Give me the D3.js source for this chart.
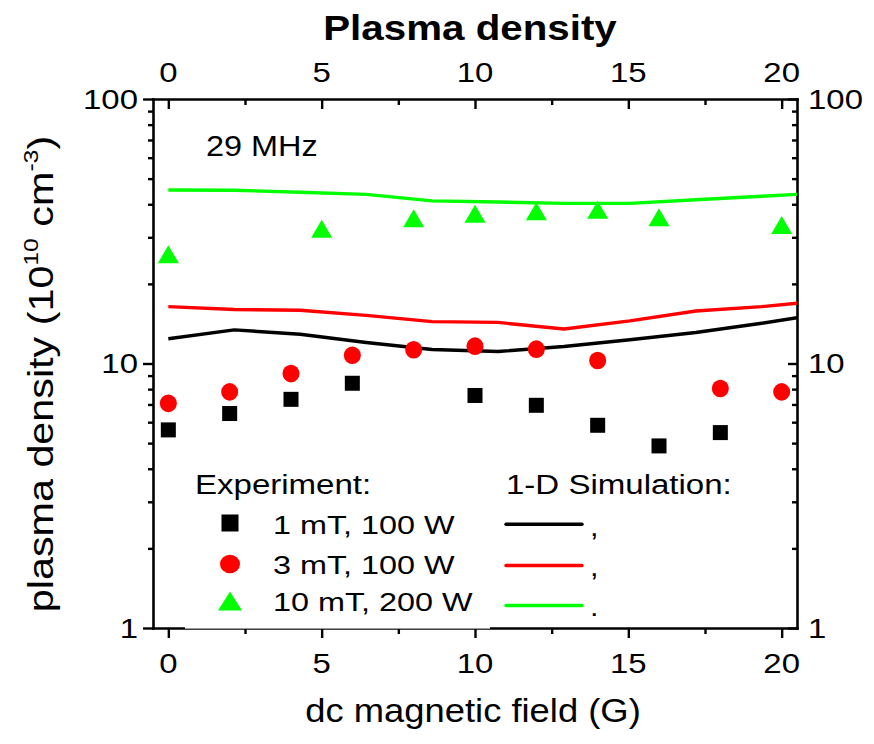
<!DOCTYPE html>
<html><head><meta charset="utf-8">
<script src="https://cdn.jsdelivr.net/npm/d3@7"></script>
<style>
body{margin:0;background:#fff}
svg{display:block}
text{font-family:"Liberation Sans",Arial,Helvetica,sans-serif;fill:#000}
</style>
</head><body>
<svg id="c" width="874" height="744"></svg>
<script>
// ---- data ----
const xTicks = [0, 5, 10, 15, 20];
const xMinor = [2.5, 7.5, 12.5, 17.5];
const yTicks = [1, 10, 100];
const yMinor = [2,3,4,5,6,7,8,9,20,30,40,50,60,70,80,90];

const exp1X = [0, 2, 4, 6, 10, 12, 14, 16, 18];
const exp1Y = [5.61, 6.47, 7.32, 8.42, 7.57, 6.95, 5.84, 4.88, 5.48];
const exp3X = [0, 2, 4, 6, 8, 10, 12, 14, 18, 20];
const exp3Y = [7.07, 7.81, 9.16, 10.75, 11.27, 11.63, 11.33, 10.26, 8.04, 7.81];
const exp10X = [0, 5, 8, 10, 12, 14, 16, 20];
const exp10Y = [25.9, 32.3, 35.4, 36.8, 37.6, 38.1, 35.7, 33.4];

const simX   = [0, 2.15, 4.3, 6.45, 8.6, 10.75, 12.9, 15.05, 17.2, 19.35, 20.5];
const sim1Y  = [12.4, 13.4, 12.9, 12.0, 11.3, 11.1, 11.6, 12.3, 13.1, 14.2, 14.9];
const sim3Y  = [16.4, 16.0, 15.9, 15.2, 14.4, 14.3, 13.5, 14.5, 15.8, 16.4, 16.9];
const sim10Y = [45.3, 45.2, 44.4, 43.6, 41.2, 40.8, 40.3, 40.3, 41.6, 42.9, 43.6];

const legendExp = ["1 mT, 100 W", "3 mT, 100 W", "10 mT, 200 W"];
const legendPunct = [",", ",", "."];
const colors = ["#000000", "#ff0000", "#00ff00"];

// ---- layout ----
const L = 153, R = 797, T = 99, B = 628;
const svg = d3.select("#c");
const x = d3.scaleLinear().domain([-0.5, 20.5]).range([L, R]);
const y = d3.scaleLog().domain([1, 100]).range([B, T]);

function label(px, py, str, o) {
  const g = svg.append("g")
    .attr("transform", `translate(${px},${py}) rotate(${o.rotate||0}) scale(${o.sx||1},1)`);
  return g.append("text")
    .attr("font-size", o.size)
    .attr("text-anchor", o.anchor || "start")
    .attr("font-weight", o.weight || "normal")
    .text(str);
}

function styleAxis(g) {
  g.selectAll("path.domain").attr("stroke", "#000").attr("stroke-width", 2.6).attr("stroke-linecap", "square");
  g.selectAll(".tick line").attr("stroke", "#000").attr("stroke-width", 2.4);
  g.selectAll("text").remove();
}
const fmtNone = () => "";
// bottom
svg.append("g").attr("transform", `translate(0,${B})`)
  .call(d3.axisBottom(x).tickValues(xTicks).tickSizeInner(10).tickSizeOuter(0).tickFormat(fmtNone)).call(styleAxis);
svg.append("g").attr("transform", `translate(0,${B})`)
  .call(d3.axisBottom(x).tickValues(xMinor).tickSizeInner(6).tickSizeOuter(0).tickFormat(fmtNone)).call(styleAxis)
  .select("path.domain").remove();
// top (ticks inward)
svg.append("g").attr("transform", `translate(0,${T})`)
  .call(d3.axisTop(x).tickValues(xTicks).tickSizeInner(-10).tickSizeOuter(0).tickFormat(fmtNone)).call(styleAxis);
svg.append("g").attr("transform", `translate(0,${T})`)
  .call(d3.axisTop(x).tickValues(xMinor).tickSizeInner(-6).tickSizeOuter(0).tickFormat(fmtNone)).call(styleAxis)
  .select("path.domain").remove();
// left (outward)
svg.append("g").attr("transform", `translate(${L},0)`)
  .call(d3.axisLeft(y).tickValues(yTicks).tickSizeInner(10).tickSizeOuter(0).tickFormat(fmtNone)).call(styleAxis);
svg.append("g").attr("transform", `translate(${L},0)`)
  .call(d3.axisLeft(y).tickValues(yMinor).tickSizeInner(5).tickSizeOuter(0).tickFormat(fmtNone)).call(styleAxis)
  .select("path.domain").remove();
// right (inward)
svg.append("g").attr("transform", `translate(${R},0)`)
  .call(d3.axisRight(y).tickValues(yTicks).tickSizeInner(-9).tickSizeOuter(0).tickFormat(fmtNone)).call(styleAxis);
svg.append("g").attr("transform", `translate(${R},0)`)
  .call(d3.axisRight(y).tickValues(yMinor).tickSizeInner(-5).tickSizeOuter(0).tickFormat(fmtNone)).call(styleAxis)
  .select("path.domain").remove();

// legend white box (covers part of the bottom axis line)
svg.append("rect").attr("x", 185).attr("y", 465).attr("width", 305).attr("height", B + 0.6 - 465).attr("fill", "#fff");

// tick labels
xTicks.forEach(v => {
  label(x(v), 82, String(v), {size: 27, anchor: "middle", sx: 1.22});
  label(x(v), 673, String(v), {size: 27, anchor: "middle", sx: 1.22});
});
yTicks.forEach(v => {
  label(138, y(v) + 9.5, String(v), {size: 27, anchor: "end", sx: 1.22});
  label(808, y(v) + 9.5, String(v), {size: 27, anchor: "start", sx: 1.22});
});

// titles
label(470, 40, "Plasma density", {size: 36, anchor: "middle", weight: "bold", sx: 1.12});
label(473, 722, "dc magnetic field (G)", {size: 34, anchor: "middle", sx: 1.07});
const yt = label(53, 374, "", {size: 35, anchor: "middle", sx: 1.18, rotate: -90});
yt.append("tspan").text("plasma density (10");
yt.append("tspan").attr("font-size", 21).attr("dy", -15).text("10");
yt.append("tspan").attr("dy", 15).text(" cm");
yt.append("tspan").attr("font-size", 21).attr("dy", -15).text("-3");
yt.append("tspan").attr("dy", 15).text(")");
label(206, 156, "29 MHz", {size: 30, sx: 1.08});

// clip
svg.append("clipPath").attr("id", "clip").append("rect")
  .attr("x", L).attr("y", T).attr("width", R - L).attr("height", B - T);

// simulation lines
const line = d3.line().x(d => x(d[0])).y(d => y(d[1]));
[sim1Y, sim3Y, sim10Y].forEach((ser, i) => {
  svg.append("path").attr("clip-path", "url(#clip)")
    .datum(simX.map((v, k) => [v, ser[k]]))
    .attr("d", line).attr("fill", "none").attr("stroke", colors[i]).attr("stroke-width", 3.4)
    .attr("stroke-linejoin", "round");
});

// experiment markers
const sq = 15, cr = 8.5, tb = 21, th = 18;
svg.append("g").selectAll("rect").data(exp1X.map((v, k) => [v, exp1Y[k]])).join("rect")
  .attr("x", d => x(d[0]) - sq/2).attr("y", d => y(d[1]) - sq/2)
  .attr("width", sq).attr("height", sq).attr("fill", colors[0]);
svg.append("g").selectAll("ellipse").data(exp3X.map((v, k) => [v, exp3Y[k]])).join("ellipse")
  .attr("cx", d => x(d[0])).attr("cy", d => y(d[1])).attr("rx", cr).attr("ry", cr + 0.3).attr("fill", colors[1]);
const tri = (cx, cy, b, h) => `M${cx - b/2},${cy + h/2}L${cx + b/2},${cy + h/2}L${cx},${cy - h/2}Z`;
svg.append("g").selectAll("path").data(exp10X.map((v, k) => [v, exp10Y[k]])).join("path")
  .attr("d", d => tri(x(d[0]), y(d[1]), tb, th)).attr("fill", colors[2]);

// legend
label(195, 494, "Experiment:", {size: 28, sx: 1.18});
label(506, 494, "1-D Simulation:", {size: 28, sx: 1.18});
const rowY = [523, 564, 601];
const rowBase = [534, 573.5, 611];
const punctBase = [536, 576, 616];
const lineY = [524.3, 565.5, 605.5];
svg.append("rect").attr("x", 230 - 8.5).attr("y", rowY[0] - 8.5).attr("width", 17).attr("height", 17).attr("fill", colors[0]);
svg.append("ellipse").attr("cx", 230).attr("cy", rowY[1]).attr("rx", 10).attr("ry", 9.3).attr("fill", colors[1]);
svg.append("path").attr("d", tri(230, rowY[2], 24, 19)).attr("fill", colors[2]);
legendExp.forEach((t, i) => {
  label(273, rowBase[i], t, {size: 25.5, sx: 1.27});
  svg.append("line").attr("x1", 506).attr("x2", 582).attr("y1", lineY[i]).attr("y2", lineY[i])
    .attr("stroke", colors[i]).attr("stroke-width", 3.4).attr("stroke-linecap", "round");
  label(590, punctBase[i], legendPunct[i], {size: 25.5, sx: 1.2});
});
</script>
</body></html>
